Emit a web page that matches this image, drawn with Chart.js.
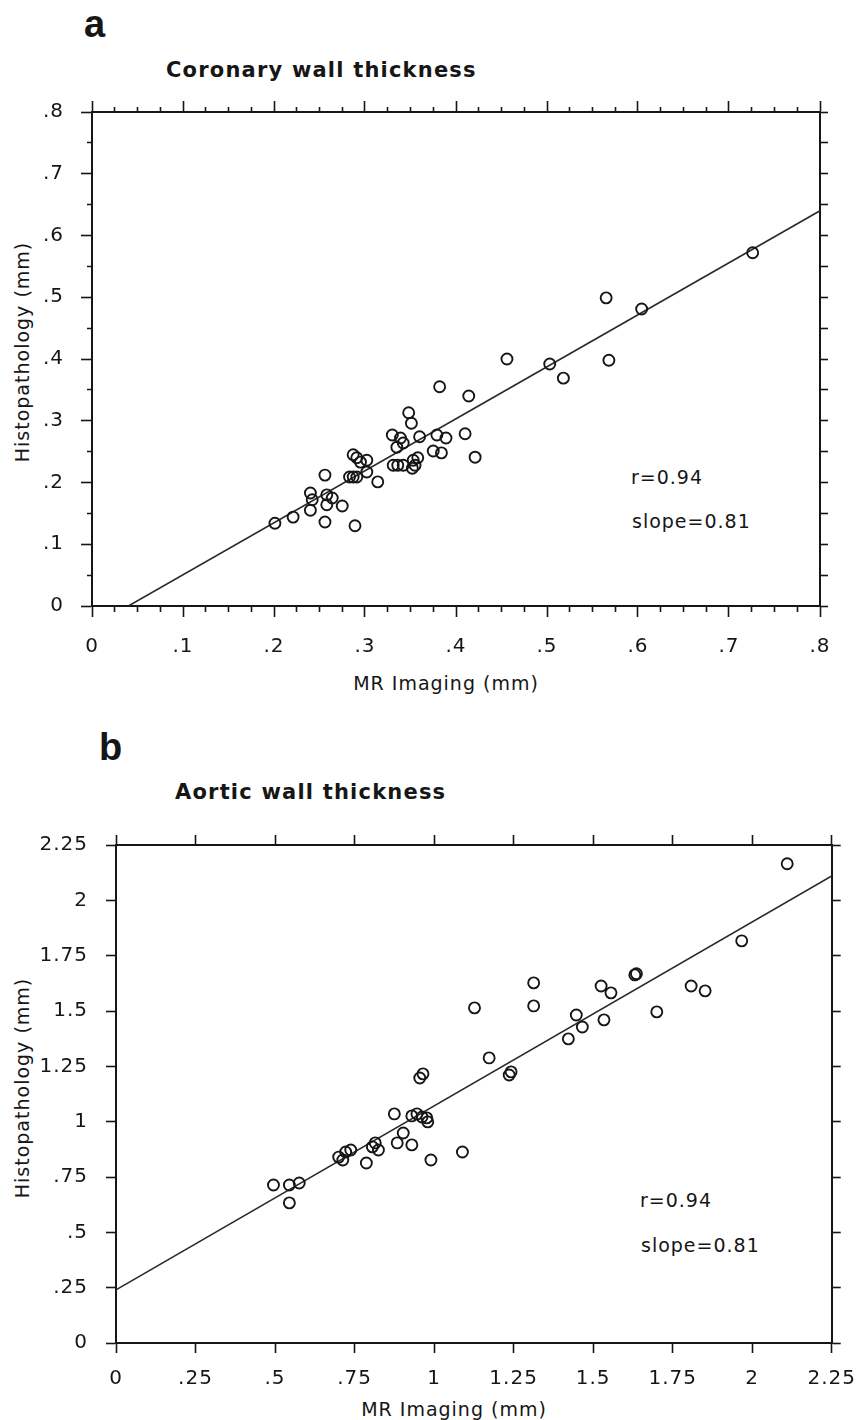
<!DOCTYPE html>
<html>
<head>
<meta charset="utf-8">
<script src="https://cdn.jsdelivr.net/npm/chart.js@4.4.1/dist/chart.umd.min.js"></script>
<style>
  html, body { margin: 0; padding: 0; background: #fff; }
  body { width: 868px; height: 1420px; position: relative; overflow: hidden;
         font-family: "DejaVu Sans", sans-serif; color: #161616; }
  canvas { position: absolute; left: 0; }
  #chartA { top: 0; }
  #chartB { top: 720px; }
  .txt { position: absolute; white-space: nowrap; line-height: 1; }
  .panel { font-family: "Liberation Sans", Arial, sans-serif; font-weight: bold; font-size: 38px; }
  .title { font-weight: bold; font-size: 21px; letter-spacing: 1.2px; }
  .lab { font-size: 19px; letter-spacing: 1px; }
  .xt { transform: translateX(-50%); }
  .yt { transform: translate(-50%, -50%) rotate(-90deg); }
</style>
</head>
<body>
<div class="txt panel" style="left:84px; top:5px;">a</div>
<div class="txt title" style="left:166px; top:60px;">Coronary wall thickness</div>
<div class="txt lab yt" style="left:22px; top:352px;">Histopathology (mm)</div>
<div class="txt lab xt" style="left:446px; top:674px;">MR Imaging (mm)</div>
<div class="txt lab" style="left:631px; top:468px;">r=0.94</div>
<div class="txt lab" style="left:632px; top:512px;">slope=0.81</div>

<div class="txt panel" style="left:99px; top:728px;">b</div>
<div class="txt title" style="left:175px; top:782px;">Aortic wall thickness</div>
<div class="txt lab yt" style="left:22px; top:1088px;">Histopathology (mm)</div>
<div class="txt lab xt" style="left:454px; top:1400px;">MR Imaging (mm)</div>
<div class="txt lab" style="left:640px; top:1191px;">r=0.94</div>
<div class="txt lab" style="left:641px; top:1236px;">slope=0.81</div>

<canvas id="chartA" width="868" height="720"></canvas>
<canvas id="chartB" width="868" height="700"></canvas>

<script>
// panel a - coronary wall thickness (mm)
var coronaryMR = [0.201, 0.221, 0.240, 0.242, 0.240, 0.258, 0.264, 0.258, 0.275, 0.256,
                  0.256, 0.289, 0.283, 0.287, 0.291, 0.287, 0.291, 0.295, 0.302, 0.302,
                  0.314, 0.331, 0.336, 0.342, 0.330, 0.339, 0.342, 0.335, 0.348, 0.351,
                  0.352, 0.353, 0.355, 0.358, 0.360, 0.379, 0.389, 0.375, 0.384, 0.410,
                  0.421, 0.382, 0.414, 0.456, 0.503, 0.518, 0.565, 0.568, 0.604, 0.726];
var coronaryHisto = [0.134, 0.144, 0.183, 0.172, 0.155, 0.180, 0.175, 0.164, 0.162, 0.212,
                     0.136, 0.130, 0.209, 0.209, 0.209, 0.245, 0.240, 0.233, 0.236, 0.217,
                     0.201, 0.228, 0.228, 0.228, 0.277, 0.272, 0.264, 0.257, 0.313, 0.296,
                     0.223, 0.236, 0.228, 0.240, 0.274, 0.277, 0.272, 0.251, 0.248, 0.279,
                     0.241, 0.355, 0.340, 0.400, 0.392, 0.369, 0.499, 0.398, 0.481, 0.572];
var coronaryFitX = [0.04, 0.8];
var coronaryFitY = [0, 0.64];
var coronaryTicks = [0, 0.1, 0.2, 0.3, 0.4, 0.5, 0.6, 0.7, 0.8];
var coronaryTickLabels = ['0', '.1', '.2', '.3', '.4', '.5', '.6', '.7', '.8'];

// panel b - aortic wall thickness (mm)
var aorticMR = [0.495, 0.545, 0.576, 0.545, 0.700, 0.713, 0.722, 0.738, 0.787, 0.806,
                0.815, 0.825, 0.875, 0.884, 0.903, 0.930, 0.930, 0.946, 0.962, 0.977,
                0.980, 0.990, 1.089, 0.955, 0.965, 1.173, 1.236, 1.242, 1.127, 1.313,
                1.313, 1.422, 1.447, 1.466, 1.534, 1.525, 1.556, 1.631, 1.636, 1.700,
                1.808, 1.852, 1.967, 2.110];
var aorticHisto = [0.714, 0.714, 0.723, 0.633, 0.840, 0.827, 0.863, 0.872, 0.813, 0.886,
                   0.904, 0.872, 1.035, 0.904, 0.949, 0.895, 1.026, 1.035, 1.021, 1.017,
                   0.999, 0.827, 0.863, 1.197, 1.216, 1.288, 1.211, 1.225, 1.514, 1.627,
                   1.523, 1.374, 1.482, 1.428, 1.460, 1.613, 1.582, 1.663, 1.668, 1.496,
                   1.613, 1.591, 1.817, 2.165];
var aorticFitX = [0, 2.25];
var aorticFitY = [0.24, 2.11];
var aorticTicks = [0, 0.25, 0.5, 0.75, 1, 1.25, 1.5, 1.75, 2, 2.25];
var aorticTickLabels = ['0', '.25', '.5', '.75', '1', '1.25', '1.5', '1.75', '2', '2.25'];

var ink = '#161616';

function pairs(xs, ys) {
    return xs.map(function (x, i) { return { x: x, y: ys[i] }; });
}

// major ticks carry the labels, 'sub' splits each step into minor ticks
function tickList(values, labels, sub) {
    var out = [];
    values.forEach(function (v, i) {
        out.push({ value: v, lab: labels[i], minor: false });
        if (i < values.length - 1) {
            var step = (values[i + 1] - v) / sub;
            for (var k = 1; k < sub; k++) out.push({ value: v + k * step, lab: '', minor: true });
        }
    });
    return out;
}

function axis(o) {
    // left/top tick marks run from the outer end to the axis, bottom/right the other way
    var fromOuter = o.position === 'left' || o.position === 'top';
    return {
        type: 'linear',
        position: o.position,
        min: o.min,
        max: o.max,
        afterBuildTicks: function (s) { s.ticks = tickList(o.values, o.labels, o.sub); },
        afterFit: function (s) {
            if (s.isHorizontal()) s.height = o.size; else s.width = o.size;
        },
        ticks: {
            display: !!o.showLabels,
            autoSkip: false,
            maxRotation: 0,
            padding: o.pad || 0,
            color: ink,
            font: { family: 'DejaVu Sans', size: 20 },
            callback: function (v, i, ticks) { return ticks[i].lab; }
        },
        grid: {
            drawOnChartArea: false,
            drawTicks: true,
            tickLength: o.major,
            tickColor: ink,
            tickWidth: 1.6,
            tickBorderDash: function (ctx) {
                if (!ctx.tick || !ctx.tick.minor || o.minor >= o.major) return [];
                return fromOuter ? [0, o.major - o.minor, o.minor, 200] : [o.minor, 200];
            }
        },
        border: { display: true, color: ink, width: 2 }
    };
}

var spacing = {
    id: 'spacing',
    beforeDraw: function (chart) { chart.ctx.letterSpacing = '1px'; }
};

function panel(canvasId, xs, ys, fitX, fitY, ticks, labels, subX, subY, box) {
    var max = ticks[ticks.length - 1];
    return new Chart(document.getElementById(canvasId), {
        type: 'scatter',
        data: {
            datasets: [{
                data: pairs(xs, ys),
                pointStyle: 'circle',
                pointRadius: 5.5,
                pointBorderWidth: 1.9,
                borderColor: ink,
                backgroundColor: 'rgba(0,0,0,0)'
            }, {
                data: pairs(fitX, fitY),
                showLine: true,
                pointRadius: 0,
                borderColor: '#2a2a2a',
                borderWidth: 1.6
            }]
        },
        plugins: [spacing],
        options: {
            responsive: false,
            animation: false,
            devicePixelRatio: 1,
            layout: { padding: 0 },
            plugins: {
                legend: { display: false },
                tooltip: { enabled: false }
            },
            scales: {
                x: axis({ position: 'bottom', min: 0, max: max, values: ticks, labels: labels, sub: subX,
                          major: box.tick, minor: box.minorTick, size: box.bottom, showLabels: true, pad: box.xPad }),
                x2: axis({ position: 'top', min: 0, max: max, values: ticks, labels: labels, sub: subX,
                           major: box.tick, minor: box.minorTick, size: box.top }),
                y: axis({ position: 'left', min: 0, max: max, values: ticks, labels: labels, sub: subY,
                          major: box.tick, minor: box.minorTick, size: box.left, showLabels: true, pad: box.yPad }),
                y2: axis({ position: 'right', min: 0, max: max, values: ticks, labels: labels, sub: subY,
                           major: box.rightTick, minor: box.rightTick, size: box.right })
            }
        }
    });
}

panel('chartA', coronaryMR, coronaryHisto, coronaryFitX, coronaryFitY,
      coronaryTicks, coronaryTickLabels, 4, 2,
      { left: 92, right: 48, top: 112, bottom: 114, tick: 11, minorTick: 5, rightTick: 8, xPad: 18, yPad: 17 });

panel('chartB', aorticMR, aorticHisto, aorticFitX, aorticFitY,
      aorticTicks, aorticTickLabels, 1, 1,
      { left: 116, right: 27, top: 125, bottom: 77, tick: 10, minorTick: 10, rightTick: 9, xPad: 14, yPad: 18 });
</script>
</body>
</html>
